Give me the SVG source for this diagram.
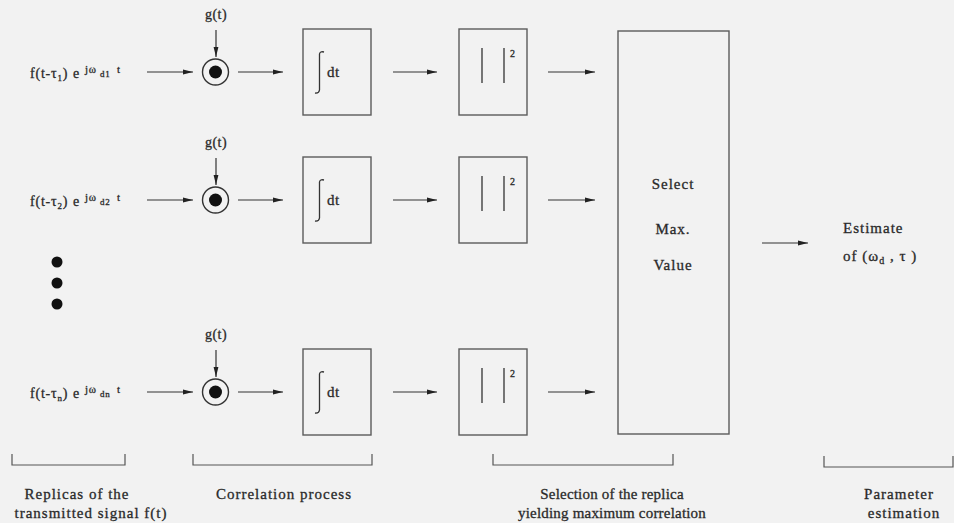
<svg xmlns="http://www.w3.org/2000/svg" width="954" height="523" viewBox="0 0 954 523">
<defs>
<marker id="ah" viewBox="0 0 10 6" refX="10" refY="3" markerWidth="10" markerHeight="6" markerUnits="userSpaceOnUse" orient="auto"><path d="M0,0.6 L10,3 L0,5.4 z" fill="#222"/></marker>
<style>
.t{font-family:"Liberation Serif","Times New Roman",serif;fill:#2a2a2a;stroke:#2a2a2a;stroke-width:0.3;font-size:15px;letter-spacing:1px}
.lab{font-size:14px;letter-spacing:0.8px}
.g{font-size:14px;letter-spacing:0.5px;text-anchor:middle}
.c{text-anchor:middle}
.tight{letter-spacing:0.2px}
.box{fill:none;stroke:#5c5c5c;stroke-width:1.4}
.ln{fill:none;stroke:#333;stroke-width:1.3}
.arr{fill:none;stroke:#333;stroke-width:1.2;marker-end:url(#ah)}
.br{fill:none;stroke:#555;stroke-width:1.2}
.ring{fill:none;stroke:#333;stroke-width:1.4}
.dot{fill:#111}
</style>
</defs>
<rect x="0" y="0" width="954" height="523" fill="#f2f2f2"/>

<!-- inputs -->
<g id="input1"><text class="t lab" y="78"><tspan x="30">f(t-τ</tspan><tspan font-size="9" dy="3">1</tspan><tspan dy="-3">)</tspan><tspan x="73">e</tspan><tspan x="85" y="73" font-size="11">jω</tspan><tspan x="100" y="77" font-size="9">d1</tspan><tspan x="117" y="73" font-size="11">t</tspan></text></g>
<g id="input2"><text class="t lab" y="206"><tspan x="30">f(t-τ</tspan><tspan font-size="9" dy="3">2</tspan><tspan dy="-3">)</tspan><tspan x="73">e</tspan><tspan x="85" y="201" font-size="11">jω</tspan><tspan x="100" y="205" font-size="9">d2</tspan><tspan x="117" y="201" font-size="11">t</tspan></text></g>
<g id="input3"><text class="t lab" y="398"><tspan x="30">f(t-τ</tspan><tspan font-size="9" dy="3">n</tspan><tspan dy="-3">)</tspan><tspan x="73">e</tspan><tspan x="85" y="393" font-size="11">jω</tspan><tspan x="100" y="397" font-size="9">dn</tspan><tspan x="117" y="393" font-size="11">t</tspan></text></g>
<g id="ellipsis"><circle class="dot" cx="57" cy="262" r="5.5"/><circle class="dot" cx="57" cy="283" r="5.5"/><circle class="dot" cx="57" cy="304" r="5.5"/></g>

<!-- g(t) labels -->
<g id="g1"><text class="t g" x="216" y="19">g(t)</text></g>
<g id="g2"><text class="t g" x="216" y="147">g(t)</text></g>
<g id="g3"><text class="t g" x="216" y="339">g(t)</text></g>

<!-- multipliers -->
<g id="mult1"><circle class="ring" cx="215.5" cy="72" r="13"/><circle class="dot" cx="215.5" cy="72" r="6.5"/></g>
<g id="mult2"><circle class="ring" cx="215.5" cy="200" r="13"/><circle class="dot" cx="215.5" cy="200" r="6.5"/></g>
<g id="mult3"><circle class="ring" cx="215.5" cy="392" r="13"/><circle class="dot" cx="215.5" cy="392" r="6.5"/></g>

<!-- integrators -->
<g id="int1"><rect class="box" x="303" y="29" width="68" height="86"/><path class="ln" d="M324,52 Q320,51 319.5,54 L319.5,90 Q319,93.5 315,93"/><text class="t" x="327" y="77" style="letter-spacing:0.5px">dt</text></g>
<g id="int2"><rect class="box" x="303" y="157" width="68" height="86"/><path class="ln" d="M324,180 Q320,179 319.5,182 L319.5,218 Q319,221.5 315,221"/><text class="t" x="327" y="205" style="letter-spacing:0.5px">dt</text></g>
<g id="int3"><rect class="box" x="303" y="349" width="68" height="86"/><path class="ln" d="M324,372 Q320,371 319.5,374 L319.5,410 Q319,413.5 315,413"/><text class="t" x="327" y="397" style="letter-spacing:0.5px">dt</text></g>

<!-- squarers -->
<g id="sq1"><rect class="box" x="459" y="29" width="68" height="86"/><path class="ln" d="M482,48 V83 M504,48 V83"/><text class="t" x="510" y="57" style="font-size:10px;letter-spacing:0">2</text></g>
<g id="sq2"><rect class="box" x="459" y="157" width="68" height="86"/><path class="ln" d="M482,176 V211 M504,176 V211"/><text class="t" x="510" y="185" style="font-size:10px;letter-spacing:0">2</text></g>
<g id="sq3"><rect class="box" x="459" y="349" width="68" height="86"/><path class="ln" d="M482,368 V403 M504,368 V403"/><text class="t" x="510" y="377" style="font-size:10px;letter-spacing:0">2</text></g>

<!-- selector -->
<g id="select"><rect class="box" x="618" y="31" width="111" height="403"/>
<text class="t c" x="673" y="189">Select</text>
<text class="t c" x="673" y="234">Max.</text>
<text class="t c" x="673" y="270">Value</text></g>

<!-- output -->
<g id="estimate"><text class="t" x="843" y="233">Estimate</text>
<text class="t" x="843" y="261">of (ω<tspan font-size="10" dy="3">d</tspan><tspan dy="-3"> , τ )</tspan></text></g>

<!-- connectors -->
<g id="connectors">
<line class="arr" x1="216" y1="30" x2="216" y2="57"/>
<line class="arr" x1="216" y1="158" x2="216" y2="185"/>
<line class="arr" x1="216" y1="350" x2="216" y2="377"/>
<line class="arr" x1="147" y1="72" x2="193" y2="72"/>
<line class="arr" x1="147" y1="200" x2="193" y2="200"/>
<line class="arr" x1="147" y1="392" x2="193" y2="392"/>
<line class="arr" x1="238" y1="72" x2="283" y2="72"/>
<line class="arr" x1="238" y1="200" x2="283" y2="200"/>
<line class="arr" x1="238" y1="392" x2="283" y2="392"/>
<line class="arr" x1="393" y1="72" x2="437" y2="72"/>
<line class="arr" x1="393" y1="200" x2="437" y2="200"/>
<line class="arr" x1="393" y1="392" x2="437" y2="392"/>
<line class="arr" x1="548" y1="72" x2="595" y2="72"/>
<line class="arr" x1="548" y1="200" x2="595" y2="200"/>
<line class="arr" x1="548" y1="392" x2="595" y2="392"/>
<line class="arr" x1="762" y1="243" x2="808" y2="243"/>
</g>

<!-- stage brackets and captions -->
<g id="stage1"><path class="br" d="M12,454 V465 H125 V454"/>
<text class="t c" x="77" y="499">Replicas of the</text>
<text class="t c" x="91" y="518">transmitted signal f(t)</text></g>
<g id="stage2"><path class="br" d="M193,454 V465 H372 V454"/>
<text class="t c" x="284" y="499">Correlation process</text></g>
<g id="stage3"><path class="br" d="M493,454 V465 H673 V454"/>
<text class="t c tight" x="612" y="499">Selection of the replica</text>
<text class="t c tight" x="612" y="518">yielding maximum correlation</text></g>
<g id="stage4"><path class="br" d="M824,456 V467 H953 V456"/>
<text class="t c" x="899" y="499">Parameter</text>
<text class="t c" x="904" y="518">estimation</text></g>
</svg>
